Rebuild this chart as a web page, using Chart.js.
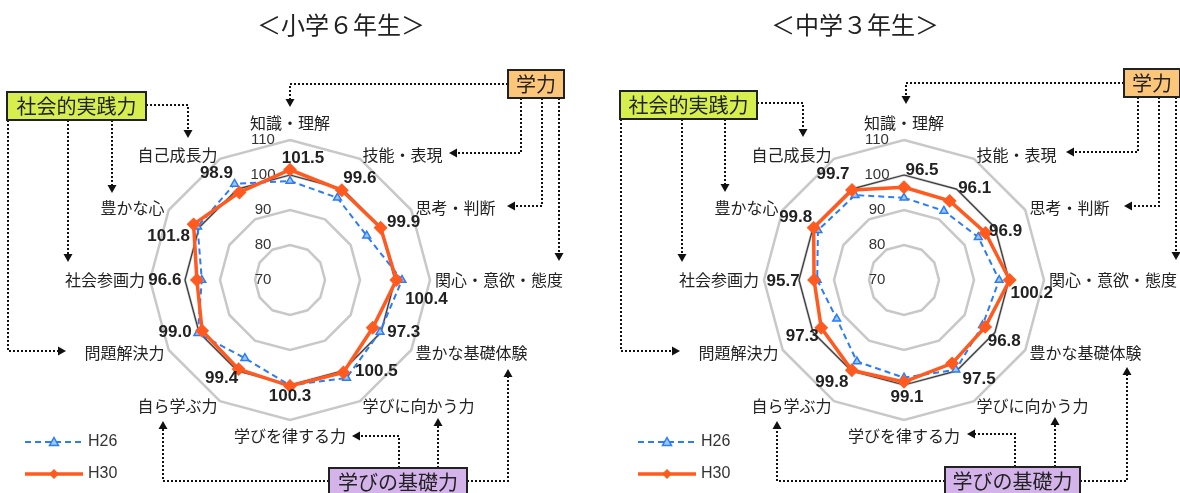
<!DOCTYPE html>
<html lang="ja">
<head>
<meta charset="utf-8">
<script src="https://cdn.jsdelivr.net/npm/chart.js@4.4.1/dist/chart.umd.min.js"></script>
<style>
  html, body { margin: 0; padding: 0; background: #fff; }
  #wrap { position: relative; width: 1180px; height: 493px; overflow: hidden; }
  canvas { position: absolute; top: 0; }
  #elem { left: 0; }
  #junior { left: 590px; }
</style>
</head>
<body>
<div id="wrap">
  <canvas id="elem" width="590" height="493"></canvas>
  <canvas id="junior" width="590" height="493"></canvas>
</div>
<script>
// axes, clockwise from the top
const axisLabels = ['知識・理解', '技能・表現', '思考・判断', '関心・意欲・態度', '豊かな基礎体験', '学びに向かう力',
  '学びを律する力', '自ら学ぶ力', '問題解決力', '社会参画力', '豊かな心', '自己成長力'];
const tickValues = [70, 80, 90, 100, 110];
const seriesNames = ['H26', 'H30'];

// 小学6年生
const elemH26 = [98.3, 97.1, 95.3, 102.0, 99.7, 102.3, 100.1, 95.8, 100.4, 95.2, 100.5, 101.7];
const elemH30 = [101.5, 99.6, 99.9, 100.4, 97.3, 100.5, 100.3, 99.4, 99.0, 96.6, 101.8, 98.9];
// 中学3年生
const juniorH26 = [93.5, 92.8, 94.5, 97.2, 95.9, 99.6, 97.9, 96.9, 92.2, 94.8, 98.4, 98.0];
const juniorH30 = [96.5, 96.1, 96.9, 100.2, 96.8, 97.5, 99.1, 99.8, 97.3, 95.7, 99.8, 99.7];
// 基準線 (=100)
const baseline = [100, 100, 100, 100, 100, 100, 100, 100, 100, 100, 100, 100];

const groupNames = ['社会的実践力', '学力', '学びの基礎力'];

const H26_COLOR = '#2b7cf6';
const H30_COLOR = '#ff5a1f';
const GROUP_COLORS = ['#d6ef4e', '#fcc67a', '#d3b3ea'];
const JP_FONT = '"Noto Sans CJK JP", "Noto Sans", sans-serif';
const NUM_FONT = '"Liberation Sans", Arial, sans-serif';

function drawArrow(c, pts) {
  const n = pts.length;
  const [x1, y1] = pts[n - 2];
  const [x2, y2] = pts[n - 1];
  const ang = Math.atan2(y2 - y1, x2 - x1);
  const head = 8;
  c.save();
  c.strokeStyle = '#111';
  c.fillStyle = '#111';
  c.lineWidth = 2;
  c.setLineDash([2, 2]);
  c.beginPath();
  c.moveTo(pts[0][0], pts[0][1]);
  for (let i = 1; i < n - 1; i++) c.lineTo(pts[i][0], pts[i][1]);
  c.lineTo(x2 - Math.cos(ang) * head, y2 - Math.sin(ang) * head);
  c.stroke();
  c.setLineDash([]);
  c.translate(x2, y2);
  c.rotate(ang);
  c.beginPath();
  c.moveTo(0, 0);
  c.lineTo(-head, -4.5);
  c.lineTo(-head, 4.5);
  c.closePath();
  c.fill();
  c.restore();
}

function makeDecor(cfg) {
  return {
    id: 'decor',
    beforeDatasetsDraw(chart) {
      const r = chart.scales.r;
      const c = chart.ctx;
      c.save();
      c.font = '15px ' + NUM_FONT;
      c.fillStyle = '#333';
      c.textAlign = 'center';
      c.textBaseline = 'middle';
      tickValues.forEach(v => {
        c.fillText(String(v), r.xCenter - 27, r.yCenter - r.getDistanceFromCenterForValue(v));
      });
      c.restore();
    },
    afterDraw(chart) {
      const r = chart.scales.r;
      const c = chart.ctx;
      c.save();

      // title
      c.font = '24px ' + JP_FONT;
      c.fillStyle = '#222';
      c.textAlign = 'center';
      c.textBaseline = 'middle';
      c.fillText(cfg.title, cfg.titleX, 25);

      // axis names round the outer ring
      c.font = '16px ' + JP_FONT;
      c.fillStyle = '#222';
      axisLabels.forEach((lab, i) => {
        const p = r.getPointPosition(i, r.drawingArea + 5);
        const s = Math.sin(i * Math.PI / 6);
        const co = Math.cos(i * Math.PI / 6);
        let y = p.y;
        if (Math.abs(s) < 0.1) {
          c.textAlign = 'center';
          y += co > 0 ? -12 : 11;
        } else {
          c.textAlign = s > 0 ? 'left' : 'right';
        }
        c.fillText(lab, p.x, y);
      });

      // H30 values
      c.font = 'bold 17px ' + NUM_FONT;
      c.fillStyle = '#222';
      c.textAlign = 'center';
      cfg.h30.forEach((v, i) => {
        const p = r.getPointPositionForValue(i, v);
        const [dx, dy] = cfg.valueOffsets[i];
        c.fillText(v.toFixed(1), p.x + dx, p.y + dy);
      });

      // legend
      const lx = cfg.legendX;
      c.font = '16px ' + NUM_FONT;
      c.fillStyle = '#333';
      c.textAlign = 'left';
      // H26
      c.strokeStyle = H26_COLOR;
      c.lineWidth = 2;
      c.setLineDash([6, 4]);
      c.beginPath(); c.moveTo(lx, 442); c.lineTo(lx + 57, 442); c.stroke();
      c.setLineDash([]);
      c.fillStyle = '#9cc8ff';
      c.lineWidth = 1.5;
      c.beginPath(); c.moveTo(lx + 29, 437.5); c.lineTo(lx + 33.5, 445.5); c.lineTo(lx + 24.5, 445.5); c.closePath();
      c.fill(); c.stroke();
      c.fillStyle = '#333';
      c.fillText(seriesNames[0], lx + 63, 442);
      // H30
      c.strokeStyle = H30_COLOR;
      c.lineWidth = 3.5;
      c.beginPath(); c.moveTo(lx, 474); c.lineTo(lx + 58, 474); c.stroke();
      c.fillStyle = H30_COLOR;
      c.beginPath(); c.moveTo(lx + 29, 469); c.lineTo(lx + 34, 474); c.lineTo(lx + 29, 479); c.lineTo(lx + 24, 474); c.closePath(); c.fill();
      c.fillStyle = '#333';
      c.fillText(seriesNames[1], lx + 63, 474);

      // group boxes and arrows
      cfg.arrows.forEach(a => drawArrow(c, a));
      cfg.boxes.forEach((b, k) => {
        c.fillStyle = GROUP_COLORS[k];
        c.fillRect(b[0], b[1], b[2], b[3]);
        c.strokeStyle = '#222';
        c.lineWidth = 2;
        c.strokeRect(b[0], b[1], b[2], b[3]);
        c.fillStyle = '#222';
        c.font = '20px ' + JP_FONT;
        c.textAlign = 'center';
        c.fillText(groupNames[k], b[0] + b[2] / 2, b[1] + 14);
      });
      c.restore();
    }
  };
}

function makeRadar(cfg) {
  const ctx = document.getElementById(cfg.canvas).getContext('2d');
  return new Chart(ctx, {
    type: 'radar',
    data: {
      labels: axisLabels,
      datasets: [
        {
          label: seriesNames[1], data: cfg.h30, order: 0, fill: false,
          borderColor: H30_COLOR, borderWidth: 3.5,
          pointStyle: 'rectRot', pointRadius: 4.5,
          pointBackgroundColor: H30_COLOR, pointBorderColor: H30_COLOR
        },
        {
          label: seriesNames[0], data: cfg.h26, order: 1, fill: false,
          borderColor: H26_COLOR, borderWidth: 2, borderDash: [6, 4],
          pointStyle: 'triangle', pointRadius: 4.5, pointBorderWidth: 1.5,
          pointBackgroundColor: '#9cc8ff', pointBorderColor: H26_COLOR
        },
        {
          label: '全国 (100)', data: baseline, order: 2, fill: false,
          borderColor: '#3a3a3a', borderWidth: 1.2, pointRadius: 0
        }
      ]
    },
    options: {
      responsive: false,
      animation: false,
      layout: { padding: cfg.pad },
      plugins: { legend: { display: false }, tooltip: { enabled: false } },
      elements: { line: { tension: 0 } },
      scales: {
        r: {
          min: 70, max: 110,
          ticks: { display: false, stepSize: 10 },
          grid: { color: '#c8c8c8', lineWidth: 2.5 },
          angleLines: { display: false },
          pointLabels: { display: false }
        }
      }
    },
    plugins: [makeDecor(cfg)]
  });
}

makeRadar({
  canvas: 'elem',
  title: '＜小学６年生＞',
  titleX: 341,
  h26: elemH26,
  h30: elemH30,
  pad: { left: 150, right: 160, top: 140, bottom: 73 },
  legendX: 25,
  valueOffsets: [[13, -11], [18, -12], [23, -5], [30, 19], [31, 5], [33, -1],
    [0, 10], [-17, 9], [-27, 2], [-32, 0], [-25, 12], [-23, -19]],
  boxes: [[7, 92, 139, 28], [508, 70, 56, 28], [329, 468, 138, 32]],
  arrows: [
    [[146, 105], [188, 105], [188, 138]],
    [[112, 120], [112, 193]],
    [[68, 120], [68, 262]],
    [[8, 120], [8, 351], [66, 351]],
    [[508, 84], [290, 84], [290, 107]],
    [[521, 98], [521, 153], [449, 153]],
    [[542, 98], [542, 206], [507, 206]],
    [[559, 98], [559, 261]],
    [[329, 481], [163, 481], [163, 421]],
    [[399, 468], [399, 436], [352, 436]],
    [[438, 468], [438, 418]],
    [[467, 481], [508, 481], [508, 369]]
  ]
});

makeRadar({
  canvas: 'junior',
  title: '＜中学３年生＞',
  titleX: 265,
  h26: juniorH26,
  h30: juniorH30,
  pad: { left: 174, right: 136, top: 140, bottom: 73 },
  legendX: 48,
  valueOffsets: [[18, -17], [25, -13], [20, -2], [22, 13], [19, 14], [27, 16],
    [3, 15], [-20, 12], [-19, 9], [-31, 1], [-18, -11], [-19, -16]],
  boxes: [[30, 91, 137, 28], [534, 69, 56, 28], [355, 467, 135, 32]],
  arrows: [
    [[167, 103], [213, 103], [213, 137]],
    [[135, 119], [135, 192]],
    [[92, 119], [92, 262]],
    [[31, 119], [31, 351], [90, 351]],
    [[534, 83], [316, 83], [316, 104]],
    [[548, 97], [548, 152], [476, 152]],
    [[569, 97], [569, 206], [534, 206]],
    [[586, 97], [586, 260]],
    [[355, 481], [187, 481], [187, 421]],
    [[425, 467], [425, 434], [377, 434]],
    [[465, 467], [465, 417]],
    [[490, 481], [537, 481], [537, 367]]
  ]
});
</script>
</body>
</html>
